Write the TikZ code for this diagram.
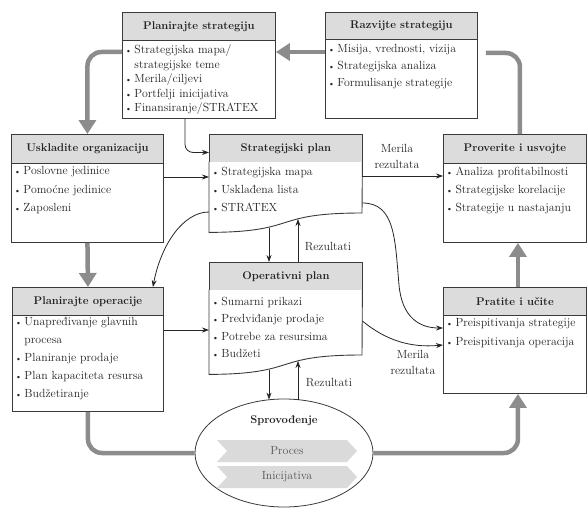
\documentclass[tikz,border=0pt]{standalone}
\usepackage{fontspec}
\usetikzlibrary{arrows.meta,shapes.geometric,shapes.symbols,calc}
\definecolor{bordc}{HTML}{3A3A3A}
\definecolor{hdrc}{HTML}{DCDCDC}
\definecolor{txtc}{HTML}{222222}
\definecolor{arrc}{HTML}{8C8C8C}
\definecolor{linec}{HTML}{252525}
\definecolor{chevc}{HTML}{DADADA}
\definecolor{chevt}{HTML}{555555}
\newcommand{\bul}{{\fontsize{8.5}{8}\selectfont\textbullet}\hspace{2.5pt}}
\newcommand{\ind}{\hphantom{\bul}}
\begin{document}
\begin{tikzpicture}[x=1pt,y=-1pt,
  box/.style={draw=bordc, line width=0.9pt, inner sep=0pt, anchor=north west, fill=white},
  hdr/.style={box, fill=hdrc, font=\fontsize{11.2}{13}\selectfont\bfseries, text=txtc},
  ghost/.style={inner sep=0pt, anchor=north west},
  txt/.style={anchor=north west, inner sep=0pt, align=left, text=txtc},
  big/.style={line width=4.5pt, draw=arrc, rounded corners=14pt},
  bigarrow/.style={big, -{Triangle[width=17pt,length=14pt]}},
  thin/.style={line width=0.8pt, draw=linec, -{Stealth[length=7pt,width=5pt]}},
  lab/.style={font=\fontsize{11.8}{16}\selectfont, text=txtc, align=center, inner sep=0pt},
  chev/.style={signal, signal to=east, signal from=west, signal pointer angle=95,
    fill=chevc, draw=none, inner sep=0pt, minimum width=140, minimum height=22,
    font=\fontsize{11.8}{13}\selectfont, text=chevt},
]
\useasboundingbox (0,0) rectangle (588,508);

% ---------- boxes ----------
% Planirajte strategiju
\node[hdr, minimum width=153, minimum height=28] (ps-h) at (122,12) {Planirajte strategiju};
\node[box, minimum width=153, minimum height=78] (ps) at (122,40) {};
\node[txt, font=\fontsize{11.8}{14.6}\selectfont] (ps-t) at (125,44.5)
  {\bul Strategijska mapa/\\\ind strategijske teme\\\bul Merila/ciljevi\\\bul Portfelji inicijativa\\\bul Finansiranje/STRATEX};

% Razvijte strategiju
\node[hdr, minimum width=152, minimum height=27] (rs-h) at (325,12) {Razvijte strategiju};
\node[box, minimum width=152, minimum height=79] (rs) at (325,39) {};
\node[txt, font=\fontsize{11.8}{16.7}\selectfont] (rs-t) at (328,44.5)
  {\bul Misija, vrednosti, vizija\\\bul Strategijska analiza\\\bul Formulisanje strategije};

% Uskladite organizaciju
\node[hdr, minimum width=152, minimum height=29] (uo-h) at (11,134) {Uskladite organizaciju};
\node[box, minimum width=152, minimum height=79] (uo) at (11,163) {};
\node[txt, font=\fontsize{11.8}{18.3}\selectfont] (uo-t) at (14,166.5)
  {\bul Poslovne jedinice\\\bul Pomoćne jedinice\\\bul Zaposleni};

% Proverite i usvojte
\node[hdr, minimum width=143, minimum height=29] (pu-h) at (443,134) {Proverite i usvojte};
\node[box, minimum width=143, minimum height=79] (pu) at (443,163) {};
\node[txt, font=\fontsize{11.8}{18.3}\selectfont] (pu-t) at (446,166.5)
  {\bul Analiza profitabilnosti\\\bul Strategijske korelacije\\\bul Strategije u nastajanju};

% Strategijski plan (wavy bottom)
\node[hdr, minimum width=153, minimum height=28] (sp-h) at (209,134) {Strategijski plan};
\node[ghost, minimum width=153, minimum height=70] (sp) at (209,162) {};
\draw[draw=bordc, line width=0.9pt, fill=white] (sp.north west) -- (sp.south west)
  .. controls (300,232) and (270,213) .. (362,213) -- (sp.north east);
\node[txt, font=\fontsize{11.8}{18}\selectfont] (sp-t) at (212,166.5)
  {\bul Strategijska mapa\\\bul Usklađena lista\\\bul STRATEX};

% Planirajte operacije
\node[hdr, minimum width=151, minimum height=28] (po-h) at (12,287) {Planirajte operacije};
\node[box, minimum width=151, minimum height=96] (po) at (12,315) {};
\node[txt, font=\fontsize{11.8}{18}\selectfont] (po-t) at (15,317.5)
  {\bul Unapređivanje glavnih\\\ind procesa\\\bul Planiranje prodaje\\\bul Plan kapaciteta resursa\\\bul Budžetiranje};

% Operativni plan (wavy bottom)
\node[hdr, minimum width=153, minimum height=28] (op-h) at (209,262) {Operativni plan};
\node[ghost, minimum width=153, minimum height=84] (op) at (209,290) {};
\draw[draw=bordc, line width=0.9pt, fill=white] (op.north west) -- (op.south west)
  .. controls (300,374) and (270,355) .. (362,355) -- (op.north east);
\node[txt, font=\fontsize{11.8}{17.5}\selectfont] (op-t) at (212,296.5)
  {\bul Sumarni prikazi\\\bul Predviđanje prodaje\\\bul Potrebe za resursima\\\bul Budžeti};

% Pratite i učite
\node[hdr, minimum width=143, minimum height=28] (pi-h) at (443,287) {Pratite i učite};
\node[box, minimum width=143, minimum height=78] (pi) at (443,315) {};
\node[txt, font=\fontsize{11.8}{18.3}\selectfont] (pi-t) at (446,318.5)
  {\bul Preispitivanja strategije\\\bul Preispitivanja operacija};

% Sprovodjenje
\node[ellipse, draw=bordc, line width=0.8pt, fill=white, minimum width=178, minimum height=108, inner sep=0pt] (spr) at (284,453) {};
\node[font=\fontsize{11.2}{13}\selectfont\bfseries, text=txtc] (spr-t) at (284,421) {Sprovođenje};
\node[chev] (proc) at (287,451) {Proces};
\node[chev] (inic) at (287,477) {Inicijativa};

% ---------- thick gray loop ----------
\draw[bigarrow] ($(rs.north west)+(0,13)$) coordinate (g1) -- (g1 -| ps.east);
\draw[bigarrow] ($(ps.north west)+(0,12)$) -| (uo-h.north);
\draw[bigarrow] (uo.south) -- (po-h.north);
\draw[big] (po.south) |- (spr.west);
\draw[bigarrow] (spr.east) -| ($(pi.south)+(3,0)$);
\draw[bigarrow] ($(pi-h.north)+(3,0)$) -- ($(pu.south)+(3,0)$);
\draw[big] ($(pu-h.north)+(5,0)$) |- ($(rs.north east)+(8,14)$);

% ---------- thin connectors ----------
\draw[thin, rounded corners=8pt] ($(ps.south west)+(63,0)$) |- ($(sp-h.west)+(0,4)$);
\draw[thin] ($(uo.north east)+(0,14)$) coordinate (a1) -- (a1 -| sp.west);
\draw[thin] ($(sp.north east)+(0,14)$) coordinate (a2) -- (a2 -| pu.west);
\node[lab] (mr1) at (397,156) {Merila\\rezultata};
\draw[thin] ($(sp.north west)+(0,50)$) .. controls +(-26,0) and +(8,-42) .. ($(po-h.north east)+(-11,0)$);
\draw[thin] ($(sp.north east)+(0,41)$) .. controls +(33,0) and +(-4,-45) .. (399,285)
  .. controls +(3,33) and +(-23,0) .. ($(pi.north west)+(0,13)$);
\draw[thin] ($(op.north east)+(0,31)$) .. controls +(23,19) and +(-33,3) .. ($(pi.north west)+(0,30)$);
\node[lab] (mr2) at (413,362) {Merila\\rezultata};
\draw[thin] ($(po.north east)+(0,15)$) coordinate (a3) -- (a3 -| op.west);

\coordinate (sd) at (269,227.5);
\coordinate (su) at (298,219);
\draw[thin] (sd) -- (sd |- op-h.north);
\draw[thin] (su |- op-h.north) -- (su);
\node[lab] (rz1) at (328,247) {Rezultati};

\coordinate (od) at (269,369.5);
\coordinate (ou) at (298,361);
\draw[thin] (od) -- ($(od |- spr.north)+(0,1)$);
\draw[thin] ($(ou |- spr.north)+(0,1)$) -- (ou);
\node[lab] (rz2) at (329,383) {Rezultati};
\end{tikzpicture}
\end{document}
